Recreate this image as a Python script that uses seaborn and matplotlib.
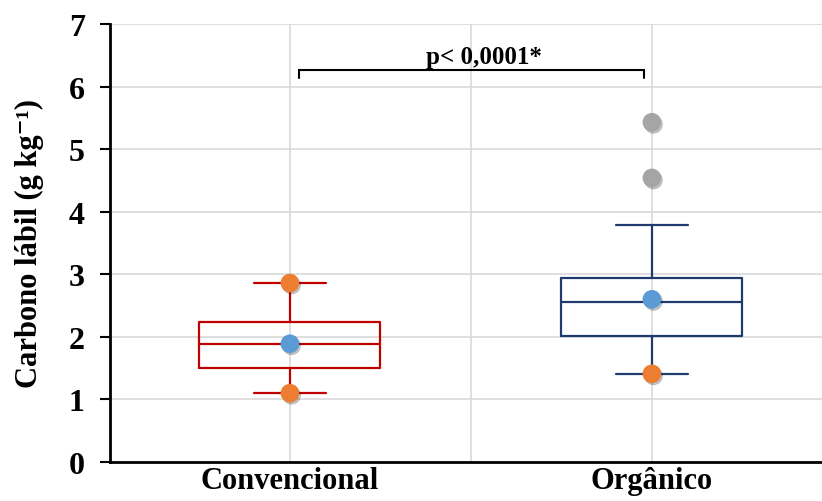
import matplotlib
matplotlib.use("Agg")
import matplotlib.pyplot as plt
import matplotlib.patheffects as pe
import seaborn as sns
import pandas as pd

# ---- data ----
categories = ["Convencional", "Orgânico"]
q1 = [1.51, 2.02]
median = [1.89, 2.55]
q3 = [2.24, 2.94]
whisker_low = [1.10, 1.41]
whisker_high = [2.86, 3.79]
means = [1.89, 2.60]
minmax_cat = ["Convencional", "Convencional", "Orgânico"]
minmax_val = [2.86, 1.10, 1.41]
outlier_cat = ["Orgânico", "Orgânico"]
outlier_val = [4.54, 5.43]
box_colors = ["#C00000", "#1F3A6E"]
yticks = [0, 1, 2, 3, 4, 5, 6, 7]
pvalue_text = "p< 0,0001*"

sns.set_theme(style="white")
plt.rcParams["font.family"] = ["Liberation Serif", "DejaVu Serif"]
plt.rcParams["font.weight"] = "bold"
for k in ["text.color", "axes.labelcolor", "xtick.color", "ytick.color"]:
    plt.rcParams[k] = "black"

fig = plt.figure(figsize=(8.22, 5.02), dpi=100)
ax = fig.add_axes([110 / 822, 1 - 463 / 502, 1 - 110 / 822, (463 - 25) / 502])

pos = {c: i for i, c in enumerate(categories)}

# grid
for y in yticks[1:]:
    ax.axhline(y, color="#D9D9D9", lw=1.2, zorder=0)
for x in [0, 0.5, 1.0]:
    ax.axvline(x, color="#D9D9D9", lw=1.2, zorder=0)

# boxes
for i, c in enumerate(categories):
    st = [dict(med=median[i], q1=q1[i], q3=q3[i], whislo=whisker_low[i],
               whishi=whisker_high[i], fliers=[], label=c)]
    col = box_colors[i]
    ax.bxp(st, positions=[i], widths=0.5, capwidths=0.2, showfliers=False,
           boxprops=dict(color=col, lw=1.6),
           medianprops=dict(color=col, lw=1.6),
           whiskerprops=dict(color=col, lw=1.6),
           capprops=dict(color=col, lw=1.6), manage_ticks=False)

shadow = [pe.SimplePatchShadow(offset=(1.2, -1.5), shadow_rgbFace="#000000", alpha=0.25),
          pe.Normal()]

df_mm = pd.DataFrame({"x": [pos[c] for c in minmax_cat], "y": minmax_val})
df_mean = pd.DataFrame({"x": [pos[c] for c in categories], "y": means})
df_out = pd.DataFrame({"x": [pos[c] for c in outlier_cat], "y": outlier_val})

for d, col in [(df_out, "#A5A5A5"), (df_mm, "#ED7D31"), (df_mean, "#5B9BD5")]:
    sns.scatterplot(data=d, x="x", y="y", ax=ax, color=col, s=180,
                    edgecolor="none", zorder=5, legend=False)
    ax.collections[-1].set_path_effects(shadow)

# significance bracket
yb, yt = 6.14, 6.27
ax.plot([0.025, 0.025, 0.978, 0.978], [yb, yt, yt, yb], color="black", lw=1.5,
        solid_joinstyle="miter", zorder=6)
ax.text(0.536, 6.29, pvalue_text, ha="center", va="bottom", fontsize=18,
        fontweight="bold", zorder=7)

ax.set_xlim(-0.497, 1.47)
ax.set_ylim(0, 7)
ax.set_yticks(yticks)
ax.set_yticklabels([str(t) for t in yticks], fontsize=23, fontweight="bold")
ax.set_xticks([0, 1])
ax.set_xticklabels(categories, fontsize=22, fontweight="bold")
ax.tick_params(axis="y", length=7.2, width=1.5, color="black", pad=11, left=True)
ax.tick_params(axis="x", length=0, pad=3)
ax.set_xlabel("")
ax.set_ylabel("Carbono lábil (g kg⁻¹)", fontsize=22, fontweight="bold")
ax.yaxis.set_label_coords(-0.092, 0.5)

for s in ["top", "right"]:
    ax.spines[s].set_visible(False)
for s in ["left", "bottom"]:
    ax.spines[s].set_color("black")
    ax.spines[s].set_linewidth(2)

fig.savefig("out.png", dpi=100)
